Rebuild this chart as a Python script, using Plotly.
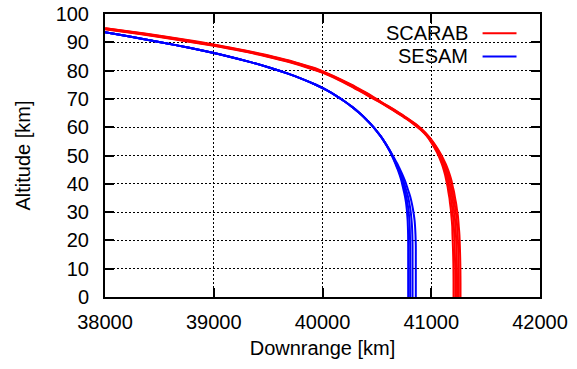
import plotly.graph_objects as go

# ---- data ----
altitude_km = [95, 93, 91, 89, 87, 85, 83, 81, 79, 77, 75, 73, 71, 69, 67, 65, 63, 61, 59, 57,
               55, 53, 51, 49, 47, 45, 43, 41, 39, 37, 35, 33, 31, 29, 27, 25, 22, 18, 14, 10, 5, 0]

scarab_run_1 = [37925, 38303, 38647, 38957, 39245, 39485, 39691, 39863, 40015, 40131, 40235, 40331, 40423, 40517,
                40605, 40689, 40769, 40841, 40905, 40955, 40993, 41025, 41053, 41077, 41097, 41114, 41128, 41139,
                41150, 41158, 41167, 41173, 41180, 41184, 41189, 41193, 41195, 41199, 41202, 41204, 41205, 41205]
scarab_run_2 = [37945, 38323, 38667, 38977, 39259, 39499, 39705, 39877, 40023, 40139, 40243, 40339, 40431, 40522,
                40610, 40694, 40774, 40846, 40909, 40959, 40998, 41031, 41060, 41085, 41106, 41124, 41139, 41151,
                41162, 41171, 41180, 41187, 41194, 41199, 41204, 41208, 41211, 41215, 41218, 41220, 41221, 41221]
scarab_run_3 = [37965, 38343, 38687, 38997, 39273, 39513, 39719, 39891, 40031, 40147, 40251, 40347, 40439, 40527,
                40615, 40699, 40779, 40851, 40913, 40963, 41003, 41037, 41067, 41093, 41115, 41134, 41150, 41163,
                41174, 41184, 41193, 41201, 41208, 41214, 41219, 41223, 41227, 41231, 41234, 41236, 41237, 41237]
scarab_run_4 = [37985, 38363, 38707, 39017, 39287, 39527, 39733, 39905, 40039, 40155, 40259, 40355, 40447, 40532,
                40620, 40704, 40784, 40856, 40917, 40967, 41008, 41043, 41074, 41101, 41124, 41144, 41161, 41175,
                41186, 41197, 41206, 41215, 41222, 41229, 41234, 41238, 41243, 41247, 41250, 41252, 41253, 41253]
scarab_run_5 = [38005, 38383, 38727, 39037, 39301, 39541, 39747, 39919, 40047, 40163, 40267, 40363, 40455, 40537,
                40625, 40709, 40789, 40861, 40921, 40971, 41013, 41049, 41081, 41109, 41133, 41154, 41172, 41187,
                41198, 41210, 41219, 41229, 41236, 41244, 41249, 41253, 41259, 41263, 41266, 41268, 41269, 41269]

sesam_run_1 = [37772, 38082, 38374, 38650, 38906, 39136, 39338, 39516, 39676, 39816, 39938, 40042, 40130, 40208,
               40278, 40340, 40396, 40446, 40491, 40531, 40567, 40597, 40625, 40649, 40671, 40692, 40710, 40726,
               40738, 40750, 40761, 40769, 40775, 40779, 40783, 40785, 40787, 40788, 40788, 40788, 40788, 40788]
sesam_run_2 = [37772, 38082, 38374, 38650, 38906, 39136, 39338, 39516, 39676, 39816, 39938, 40042, 40130, 40208,
               40278, 40340, 40396, 40446, 40491, 40531, 40567, 40598, 40627, 40652, 40675, 40698, 40717, 40734,
               40748, 40761, 40773, 40782, 40790, 40795, 40799, 40802, 40804, 40806, 40806, 40806, 40806, 40806]
sesam_run_3 = [37772, 38082, 38374, 38650, 38906, 39136, 39338, 39516, 39676, 39816, 39938, 40042, 40130, 40208,
               40278, 40340, 40396, 40446, 40491, 40531, 40567, 40599, 40629, 40655, 40681, 40705, 40726, 40745,
               40760, 40775, 40789, 40799, 40808, 40814, 40819, 40823, 40826, 40828, 40828, 40828, 40828, 40828]
sesam_run_4 = [37772, 38082, 38374, 38650, 38906, 39136, 39338, 39516, 39676, 39816, 39938, 40042, 40130, 40208,
               40278, 40340, 40396, 40446, 40491, 40531, 40567, 40601, 40632, 40660, 40689, 40714, 40738, 40759,
               40777, 40794, 40810, 40822, 40832, 40840, 40847, 40851, 40855, 40858, 40858, 40858, 40858, 40858]

scarab_runs = [scarab_run_1, scarab_run_2, scarab_run_3, scarab_run_4, scarab_run_5]
sesam_runs = [sesam_run_1, sesam_run_2, sesam_run_3, sesam_run_4]

series_names = ["SCARAB", "SESAM"]
series_colors = ["#ff0000", "#0000ff"]

x_ticks = [38000, 39000, 40000, 41000, 42000]
y_ticks = [0, 10, 20, 30, 40, 50, 60, 70, 80, 90, 100]

FONT = "Liberation Sans, Arial, Helvetica, sans-serif"

fig = go.Figure()
for runs, color in zip([scarab_runs, sesam_runs], series_colors):
    for run in runs:
        fig.add_trace(go.Scatter(x=run, y=altitude_km, mode="lines",
                                 line=dict(color=color, width=2, shape="spline", smoothing=0.8),
                                 showlegend=False, hoverinfo="skip"))

axis_common = dict(
    showline=True, linecolor="black", linewidth=2, mirror="ticks",
    ticks="inside", ticklen=9, tickwidth=1.5, tickcolor="black",
    showgrid=True, gridcolor="black", gridwidth=1, griddash="2px,2px",
    zeroline=False,
    tickfont=dict(family=FONT, size=20, color="black"),
)

fig.update_xaxes(range=[38000, 42000], tickvals=x_ticks,
                 ticktext=[str(v) for v in x_ticks],
                 title=dict(text="Downrange [km]", font=dict(family=FONT, size=20, color="black"), standoff=9),
                 ticklabelstandoff=6, **axis_common)
fig.update_yaxes(range=[0, 100], tickvals=y_ticks,
                 ticktext=[str(v) for v in y_ticks],
                 title=dict(text="Altitude [km]", font=dict(family=FONT, size=20, color="black"), standoff=20),
                 ticklabelstandoff=10, **axis_common)

# gnuplot-style key: label then sample line
key_y = [0.932, 0.850]
for name, color, ky in zip(series_names, series_colors, key_y):
    fig.add_annotation(x=0.839, y=ky, xref="paper", yref="paper", text=name,
                       showarrow=False, xanchor="right", yanchor="middle",
                       font=dict(family=FONT, size=20, color="black"))
    fig.add_shape(type="line", xref="paper", yref="paper", x0=0.868, x1=0.946,
                  y0=ky, y1=ky, line=dict(color=color, width=2))

fig.update_layout(
    width=577, height=369,
    margin=dict(l=105, r=37, t=14, b=72, autoexpand=False),
    paper_bgcolor="white", plot_bgcolor="white",
    showlegend=False,
    font=dict(family=FONT, size=20, color="black"),
)

fig.write_html("out.html", config={"displayModeBar": False},
               post_script="document.body.style.margin='0';document.body.style.overflow='hidden';")
